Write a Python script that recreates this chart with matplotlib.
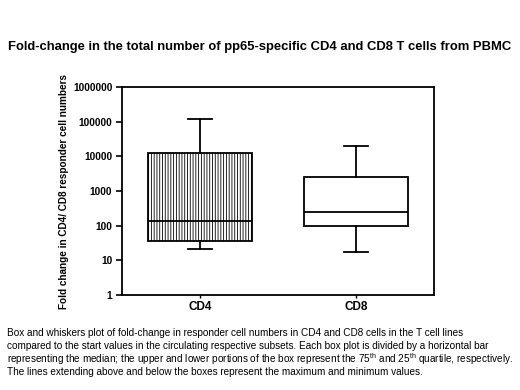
import matplotlib
matplotlib.use("Agg")
import matplotlib.pyplot as plt
from matplotlib.ticker import FixedLocator, NullLocator

plt.rcParams['font.family'] = ['Liberation Sans', 'DejaVu Sans']
plt.rcParams['mathtext.fontset'] = 'custom'
plt.rcParams['mathtext.rm'] = 'Liberation Sans'
plt.rcParams['hatch.linewidth'] = 0.6

categories = ["CD4", "CD8"]
whisker_min = [21, 17]
q1 = [36, 97]
median = [138, 256]
q3 = [12900, 2600]
whisker_max = [120000, 20000]
hatches = ["||||||", None]
y_ticks = [1, 10, 100, 1000, 10000, 100000, 1000000]
y_tick_labels = ["1", "10", "100", "1000", "10000", "100000", "1000000"]

stats = []
for i, c in enumerate(categories):
    stats.append(dict(label=c, whislo=whisker_min[i], q1=q1[i], med=median[i],
                      q3=q3[i], whishi=whisker_max[i], fliers=[]))

fig = plt.figure(figsize=(5.2, 3.9), dpi=100)
ax = fig.add_axes([0.2346, 0.2436, 0.6, 0.5333])
bp = ax.bxp(stats, positions=[1, 2], widths=0.667, patch_artist=True,
            showfliers=False,
            boxprops=dict(facecolor='white', edgecolor='black', linewidth=1.3),
            medianprops=dict(color='black', linewidth=1.3),
            whiskerprops=dict(color='black', linewidth=1.3),
            capprops=dict(color='black', linewidth=1.3),
            capwidths=0.16)
for patch, h in zip(bp['boxes'], hatches):
    if h:
        patch.set_hatch(h)

ax.set_yscale('log')
ax.set_ylim(1, 1000000)
ax.set_xlim(0.5, 2.5)
ax.yaxis.set_major_locator(FixedLocator(y_ticks))
ax.yaxis.set_minor_locator(NullLocator())
ax.set_yticklabels(y_tick_labels, fontsize=7.3, fontweight='bold')
ax.set_xticks([1, 2])
ax.set_xticklabels(categories, fontsize=8.5, fontweight='bold')
ax.tick_params(axis='y', direction='out', length=4, width=1.2, pad=3)
ax.tick_params(axis='x', direction='out', length=2, width=1.0, pad=2)
for s in ax.spines.values():
    s.set_linewidth(1.3)
ax.set_ylabel("Fold change in CD4/ CD8 responder cell numbers", fontsize=7.2,
              fontweight='bold', labelpad=3)

fig.text(0.5, 1 - 47 / 390, "Fold-change in the total number of pp65-specific CD4 and CD8 T cells from PBMC",
         ha='center', va='center', fontsize=9.35, fontweight='bold')

caption = [
    "Box and whiskers plot of fold-change in responder cell numbers in CD4 and CD8 cells in the T cell lines",
    "compared to the start values in the circulating respective subsets. Each box plot is divided by a horizontal bar",
    r"representing the median; the upper and lower portions of the box represent the 75$^{\mathrm{th}}$ and 25$^{\mathrm{th}}$ quartile, respectively.",
    "The lines extending above and below the boxes represent the maximum and minimum values.",
]
for i, line in enumerate(caption):
    fig.text(7 / 520, 1 - (333 + 13 * i) / 390, line, ha='left', va='center', fontsize=7.2)

fig.savefig("out.png", dpi=100)
